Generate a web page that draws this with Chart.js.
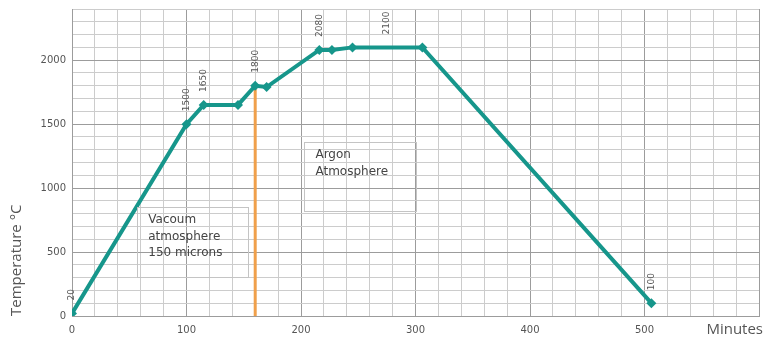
<!DOCTYPE html>
<html><head><meta charset="utf-8">
<script src="https://cdn.jsdelivr.net/npm/chart.js@4/dist/chart.umd.min.js"></script>
<style>html,body{margin:0;padding:0;background:#fff}</style>
</head><body>
<canvas id="c" width="764" height="338"></canvas>
<script>
// ---- data ----
const minutes = [0, 100, 115, 145, 160, 170, 216, 227, 245, 306, 506];
const temps   = [20, 1500, 1650, 1650, 1800, 1790, 2080, 2080, 2100, 2100, 100];
const switchMinutes = [160, 160];
const switchTemps   = [0, 1800];
const labelMinutes = [0, 100, 115, 160, 216, 275, 506];
const labelTemps   = [20, 1500, 1650, 1800, 2080, 2100, 100];
const labelTexts   = ['20', '1500', '1650', '1800', '2080', '2100', '100'];
const noteTexts = [['Vacoum', 'atmosphere', '150 microns'], ['Argon', 'Atmosphere']];
const noteMinutes = [[57, 154], [203, 301]];
const noteTemps   = [[852, 305], [1359, 820]];
const xRange = [0, 600]; const xStep = 20; const xLabelEvery = 100; const xLastLabel = 500;
const yRange = [0, 2400]; const yStep = 100; const yLabelEvery = 500;

const TEAL = '#16968b', ORANGE = '#f0a04b';
const MINOR = '#cccccc', MAJOR = '#9c9c9c';

const extras = {
  id: 'extras',
  afterDatasetsDraw(chart) {
    const {ctx, scales: {x, y}} = chart;
    ctx.save();
    // data labels
    ctx.fillStyle = '#555';
    ctx.font = '9px "DejaVu Sans"';
    ctx.textAlign = 'left';
    ctx.textBaseline = 'middle';
    labelTexts.forEach((t, i) => {
      const px = x.getPixelForValue(labelMinutes[i]);
      const py = y.getPixelForValue(labelTemps[i]);
      ctx.save();
      ctx.translate(px, py - 13);
      ctx.rotate(-Math.PI / 2);
      ctx.fillText(t, 0, 0);
      ctx.restore();
    });
    // note boxes
    noteTexts.forEach((lines, i) => {
      const l = x.getPixelForValue(noteMinutes[i][0]);
      const r = x.getPixelForValue(noteMinutes[i][1]);
      const t = y.getPixelForValue(noteTemps[i][0]);
      const b = y.getPixelForValue(noteTemps[i][1]);
      ctx.strokeStyle = '#c4c4c4';
      ctx.lineWidth = 1;
      ctx.strokeRect(Math.round(l) + 0.5, Math.round(t) + 0.5, Math.round(r - l), Math.round(b - t));
      ctx.fillStyle = '#444';
      ctx.font = '12px "DejaVu Sans"';
      ctx.textAlign = 'left';
      ctx.textBaseline = 'middle';
      lines.forEach((s, j) => ctx.fillText(s, l + 11, t + 13 + j * 16.5));
    });
    // x axis title
    ctx.fillStyle = '#555';
    ctx.font = '15px "Open Sans"';
    ctx.textAlign = 'right';
    ctx.textBaseline = 'middle';
    ctx.fillText('Minutes', 763, 330);
    ctx.restore();
  }
};

new Chart(document.getElementById('c'), {
  type: 'scatter',
  data: {
    datasets: [
      {
        data: minutes.map((m, i) => ({x: m, y: temps[i]})),
        showLine: true,
        borderColor: TEAL,
        backgroundColor: TEAL,
        borderWidth: 4,
        pointStyle: 'rectRot',
        pointRadius: 5,
        pointBorderWidth: 0,
        tension: 0
      },
      {
        data: switchMinutes.map((m, i) => ({x: m, y: switchTemps[i]})),
        showLine: true,
        borderColor: ORANGE,
        borderWidth: 3,
        pointRadius: 0
      }
    ]
  },
  options: {
    responsive: false,
    animation: false,
    layout: {padding: {top: 9, right: 4, bottom: 0, left: 0}},
    plugins: {legend: {display: false}, tooltip: {enabled: false}},
    scales: {
      x: {
        type: 'linear', min: xRange[0], max: xRange[1],
        afterFit(s) { s.height = 22; s.paddingLeft = 0; s.paddingRight = 0; },
        border: {color: MAJOR},
        grid: {
          drawTicks: false,
          color: c => (c.tick && c.tick.value % xLabelEvery === 0) ? MAJOR : MINOR
        },
        ticks: {
          stepSize: xStep, autoSkip: false, maxRotation: 0, padding: 8,
          color: '#555', font: {family: 'DejaVu Sans', size: 10},
          callback: v => (v % xLabelEvery === 0 && v <= xLastLabel ? v : '')
        }
      },
      y: {
        type: 'linear', min: yRange[0], max: yRange[1],
        afterFit(s) { s.width = 72; s.paddingTop = 0; s.paddingBottom = 0; },
        border: {color: MAJOR},
        grid: {
          drawTicks: false,
          color: c => (c.tick && c.tick.value % yLabelEvery === 0) ? MAJOR : MINOR
        },
        ticks: {
          stepSize: yStep, autoSkip: false, padding: 6,
          color: '#555', font: {family: 'DejaVu Sans', size: 10},
          callback: v => (v % yLabelEvery === 0 ? v : '')
        },
        title: {
          display: true, text: 'Temperature °C', align: 'start',
          color: '#555', font: {family: 'Open Sans', size: 15},
          padding: {top: 8, bottom: 0}
        }
      }
    }
  },
  plugins: [extras]
});
</script>
</body></html>
